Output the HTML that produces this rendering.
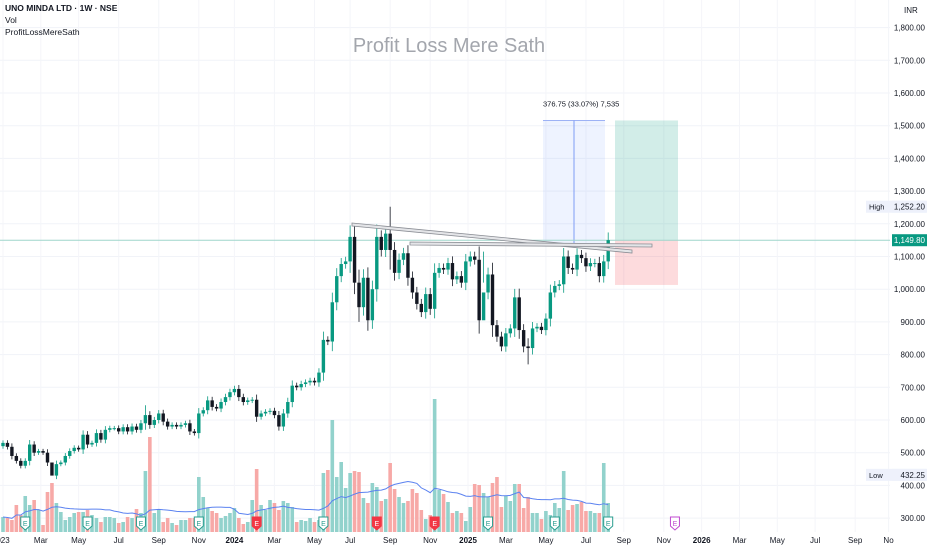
<!DOCTYPE html>
<html><head><meta charset="utf-8">
<style>
html,body{margin:0;padding:0;background:#fff;}
#wrap{position:relative;width:932px;height:550px;overflow:hidden;font-family:"Liberation Sans",sans-serif;}
svg text{font-family:"Liberation Sans",sans-serif;}
</style></head>
<body>
<div id="wrap">
<svg id="chart" width="932" height="550" viewBox="0 0 932 550">
  <g id="grid"></g>
  <text x="449" y="52" text-anchor="middle" font-size="20" fill="#a3a6ad">Profit Loss Mere Sath</text>
  <g id="overlays"></g>
  <g id="vol"></g>
  <g id="candles"></g>
  <g id="lines"></g>
  <g id="earn"></g>
  <g id="yaxis"></g>
  <g id="xaxis"></g>
  <text x="5" y="11" font-size="8.5" font-weight="bold" fill="#131722">UNO MINDA LTD · 1W · NSE</text>
  <text x="5" y="23" font-size="8.5" fill="#131722">Vol</text>
  <text x="5" y="35" font-size="8.5" fill="#131722">ProfitLossMereSath</text>
  <text x="904" y="13" font-size="8" fill="#131722">INR</text>
</svg>
</div>
<script>
const closes = [530,518,490,475,460,475,525,500,505,500,470,430,465,470,490,505,515,510,555,525,530,560,540,570,575,575,565,578,565,580,570,590,615,585,600,620,595,
580,585,580,585,590,565,560,620,630,660,640,635,655,670,685,695,670,655,660,662,610,620,625,628,615,580,620,655,705,700,710,715,720,715,745,845,840,960,1040,
1077,1085,1160,1020,945,1035,905,1000,1160,1120,1170,1120,1050,1090,1110,1035,990,955,930,985,940,1050,1065,1060,1080,1030,1040,1020,1085,1100,1090,905,990,1045,890,855,825,865,880,975,875,825,820,880,885,875,910,990,1010,1015,1100,1065,1060,1105,1095,1070,1080,1080,1040,1085,1150];
const firstOpen = 520;
const volumes = [15,14,12,27,17,36,27,32,22,7,40,49,29,20,12,15,19,20,20,22,17,14,10,15,15,14,9,10,15,14,23,19,61,95,19,22,10,14,9,7,12,12,14,14,55,35,24,21,19,14,16,19,24,14,8,10,32,63,27,22,32,29,22,31,29,25,10,12,11,14,10,12,
59,62,112,55,70,44,59,61,60,34,29,49,45,31,33,69,43,35,29,31,43,39,22,13,17,133,42,38,30,19,21,19,11,25,48,47,39,35,49,55,25,36,31,48,48,24,35,19,19,13,21,17,29,24,61,22,27,28,30,21,21,19,19,69,29];
const spikeIdx = [11,32,78,87,118,80,108];
const spikeHigh = [470,645,1195,1252.2,850,1060,1115];
const spikeLow = [432.25,570,1050,1060,770,900,1020];
const earnIdx = [5,19,31,44,57,72,84,97,109,124,136,151];
const earnType = ['g','g','g','g','r','g','r','r','g','g','g','p'];
const priceTicks = [1800,1700,1600,1500,1400,1300,1200,1100,1000,900,800,700,600,500,400,300];
const timeLabels = ['023','Mar','May','Jul','Sep','Nov','2024','Mar','May','Jul','Sep','Nov','2025','Mar','May','Jul','Sep','Nov','2026','Mar','May','Jul','Sep','No'];
const timeLabelIdx = [0,8.5,17,26,35,44,52,61,70,78,87,96,104.5,113,122,131,139.5,148.5,157,165.5,174,182.5,191.5,199];
const lastPrice = 1149.8, highPrice = 1252.2, lowPrice = 432.25;
const measureFrom = 1139.25, measureTo = 1516, measureText = '376.75 (33.07%) 7,535';
const tradeEntry = 1149.8, tradeTarget = 1516, tradeStop = 1013;

const NS='http://www.w3.org/2000/svg';
function yP(p){return 125.7+(1500-p)*0.327;}
function xI(i){return 3+i*4.45;}
const vMax=Math.max(...volumes);
function yV(v){return 532-v/vMax*133;}
function mk(tag,attrs,parent){const e=document.createElementNS(NS,tag);for(const k in attrs)e.setAttribute(k,attrs[k]);parent.appendChild(e);return e;}
const G=id=>document.getElementById(id);

// grid
priceTicks.forEach(p=>{
  const l=mk('line',{x1:0,x2:890,y1:yP(p),y2:yP(p),stroke:'#f1f3f8','stroke-width':1},G('grid'));
  
  
  const t=mk('text',{x:925,y:yP(p)+3,'font-size':8,'text-anchor':'end',fill:'#131722'},G('yaxis'));
  t.textContent=p.toLocaleString('en-US',{minimumFractionDigits:2});
  
  
});
timeLabels.forEach((s,k)=>{
  const x=xI(timeLabelIdx[k]);
  const l=mk('line',{x1:x,x2:x,y1:0,y2:532,stroke:'#f4f5f9','stroke-width':1},G('grid'));
  
  
  const t=mk('text',{x:x,y:543,'font-size':8,'text-anchor':'middle',fill:'#131722','font-weight':(s.length===4?'bold':'normal')},G('xaxis'));
  t.textContent=s;
  
  
});

// overlays: measure + long position
const ov=G('overlays');
const mx1=543,mx2=605;
let r=mk('rect',{x:mx1,y:yP(measureTo),width:mx2-mx1,height:yP(measureFrom)-yP(measureTo),fill:'rgba(41,98,255,0.08)'},ov);


let ln=mk('line',{x1:mx1,x2:mx2,y1:yP(measureTo),y2:yP(measureTo),stroke:'#9db2f5','stroke-width':1},ov);


ln=mk('line',{x1:(mx1+mx2)/2,x2:(mx1+mx2)/2,y1:yP(measureTo),y2:yP(measureFrom),stroke:'#7f9cf5','stroke-width':1},ov);


let tx=mk('text',{x:mx1,y:yP(measureTo)-14,'font-size':7.5,fill:'#131722'},ov);
tx.textContent=measureText;


r=mk('rect',{x:615,y:yP(tradeTarget),width:63,height:yP(tradeEntry)-yP(tradeTarget),fill:'rgba(8,153,129,0.18)'},ov);


r=mk('rect',{x:615,y:yP(tradeEntry),width:63,height:yP(tradeStop)-yP(tradeEntry),fill:'rgba(242,54,69,0.18)'},ov);


ln=mk('line',{x1:0,x2:890,y1:yP(lastPrice),y2:yP(lastPrice),stroke:'#9fd6cc','stroke-width':1},ov);



// candles & volume
const opens=closes.map((c,i)=>i===0?firstOpen:closes[i-1]);
const vg=G('vol'),cg=G('candles');
closes.forEach((c,i)=>{
  const o=opens[i],x=xI(i),up=c>=o;
  const pad=Math.max(o,c)*0.012+Math.abs(c-o)*0.15;
  let hi=Math.max(o,c)+pad, lo=Math.min(o,c)-pad;
  const s=spikeIdx.indexOf(i);
  if(s>=0){hi=spikeHigh[s];lo=spikeLow[s];}
  const vb=mk('rect',{x:x-1.8,y:yV(volumes[i]),width:3.6,height:532-yV(volumes[i]),fill:up?'#92d2cc':'#f7a9a7'},vg);
  
  
  const col=up?'#089981':'#131722';
  const w=mk('line',{x1:x,x2:x,y1:yP(hi),y2:yP(lo),stroke:col,'stroke-width':0.8},cg);
  
  
  const top=yP(Math.max(o,c)),bh=Math.max(1,yP(Math.min(o,c))-top);
  const b=mk('rect',{x:x-1.7,y:top,width:3.4,height:bh,fill:col},cg);
  
  
});
// volume MA 20
let pts=[];
volumes.forEach((v,i)=>{const s=volumes.slice(Math.max(0,i-19),i+1);const m=s.reduce((a,b)=>a+b,0)/s.length;pts.push(xI(i).toFixed(1)+','+yV(m).toFixed(1));});
const ma=mk('polyline',{points:pts.join(' '),fill:'none',stroke:'#5b82f0','stroke-width':1},vg);



// trendlines (double)
const lg=G('lines');
[[352,223,632,250],[410,242,652,244]].forEach(a=>{
  const poly=mk('polygon',{points:`${a[0]},${a[1]} ${a[2]},${a[3]} ${a[2]},${a[3]+3} ${a[0]},${a[1]+3}`,fill:'#e4e5e8',stroke:'#8a8d94','stroke-width':0.8},lg);
  
  
});

// earnings markers
const eg=G('earn');
earnIdx.forEach((i,k)=>{
  const x=xI(i),t=earnType[k];
  const col=t==='g'?'#2a9d8f':(t==='r'?'#f23645':'#c04bd0');
  const g=mk('g',{},eg);
  
  
  mk('path',{d:`M${x-4.5},${517} L${x+4.5},${517} L${x+4.5},${526} L${x},${530} L${x-4.5},${526} Z`,fill:t==='r'?col:'#fff',stroke:col,'stroke-width':1},g);
  const tt=mk('text',{x:x,y:526,'font-size':7,'text-anchor':'middle',fill:t==='r'?'#fff':col},g);
  tt.textContent='E';
});

// axis badges
const ya=G('yaxis');
function badge(y,txt,bg,fg,name,lab){
  const g=mk('g',{},ya);
  
  
  if(lab){mk('rect',{x:866,y:y-6,width:60,height:12,fill:bg},g);const a=mk('text',{x:869,y:y+3,'font-size':7.5,fill:fg},g);a.textContent=lab;}
  mk('rect',{x:892,y:y-6,width:35,height:12,fill:bg},g);
  const t=mk('text',{x:925,y:y+3,'font-size':8,'text-anchor':'end',fill:fg},g);t.textContent=txt;
}
badge(yP(highPrice),highPrice.toLocaleString('en-US',{minimumFractionDigits:2}),'#eef1fb','#131722','high-badge','High');
badge(yP(lowPrice),lowPrice.toLocaleString('en-US',{minimumFractionDigits:2}),'#eef1fb','#131722','low-badge','Low');
badge(yP(lastPrice),lastPrice.toLocaleString('en-US',{minimumFractionDigits:2}),'#089981','#fff','last-price-badge',null);
</script>
</body></html>
